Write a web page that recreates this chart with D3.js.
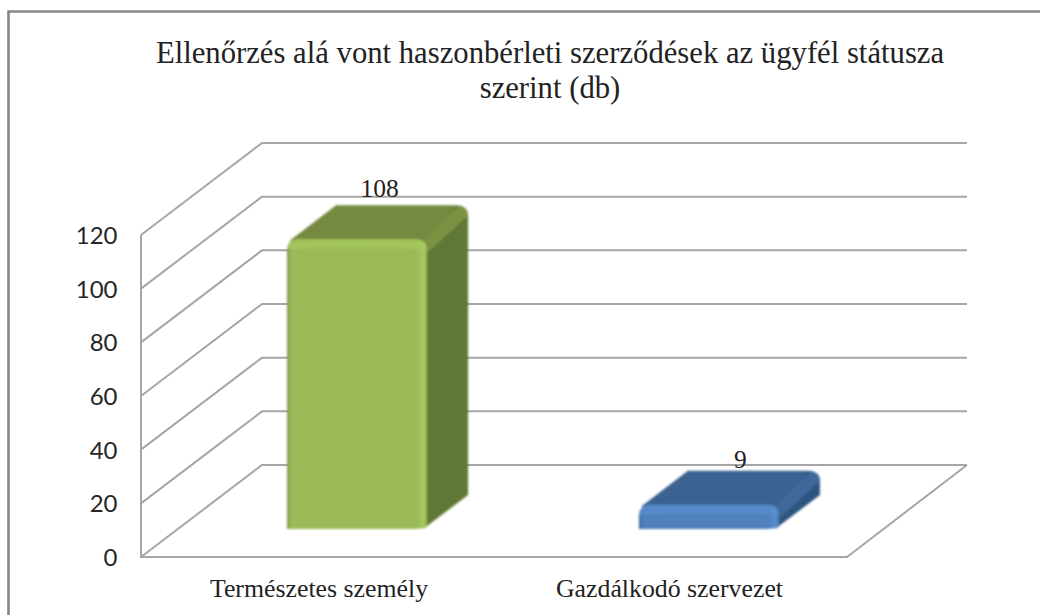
<!DOCTYPE html>
<html><head><meta charset="utf-8">
<script src="https://cdn.jsdelivr.net/npm/d3@7"></script>
<style>html,body{margin:0;background:#fff;overflow:hidden}svg{display:block}
text{font-family:"Liberation Serif",serif;fill:#222}</style></head>
<body><svg id="c" width="1040" height="615"></svg>
<script>
const titleLines = ["Ellenőrzés alá vont haszonbérleti szerződések az ügyfél státusza", "szerint (db)"];
const categories = ["Természetes személy", "Gazdálkodó szervezet"];
const values = [108, 9];
const tickValues = [0, 20, 40, 60, 80, 100, 120];
const frontColors = ["#9bbb59", "#4f81bd"];
const topColors = ["#74893f", "#3b6290"];
const sideColors = ["#617836", "#2f5480"];
const lightColors = ["#a8cc5e", "#5a90d0"];

const svg = d3.select("#c");
const defs = svg.append("defs");
defs.append("filter").attr("id", "soft").append("feGaussianBlur").attr("stdDeviation", 0.8);
const x0 = 141, x1 = 847, dx = 121, dy = -92;
const y = d3.scaleLinear().domain([0, 120]).range([557, 235]);
const band = d3.scaleBand().domain(categories).range([141, 925]).paddingInner(0.602).paddingOuter(0.415);
const barDx = 41, barDy = -34, floorY = 529;
const stroke = "#a6a6a6";

svg.append("path").attr("d", "M8.5,615V11.5H1040").attr("fill", "none").attr("stroke", "#868686").attr("stroke-width", 2.6);

const grid = svg.append("g").attr("fill", "none").attr("stroke", stroke).attr("stroke-width", 2);
tickValues.forEach(t => {
  grid.append("path").attr("d", d3.line()([[x0, y(t)], [x0 + dx, y(t) + dy], [x1 + dx - 1, y(t) + dy]]));
});
grid.append("path").attr("d", d3.line()([[x0, y(120)], [x0, y(0)], [x1, y(0)], [x1 + dx - 1, y(0) + dy]]));

const ax = d3.axisLeft(y).tickValues(tickValues).tickSize(0).tickPadding(0);
const axG = svg.append("g").attr("transform", "translate(117.5,0)").call(ax);
axG.select(".domain").remove();
axG.selectAll("text").style("font-size", "24px").style("font-family", 'Lato,sans-serif').style("fill", "#262626").attr("dy", ".35em");

const scaleX = d3.scalePoint().domain(categories).range([319, 669.5]);
svg.append("g").selectAll("text").data(categories).join("text")
  .attr("x", d => scaleX(d)).attr("y", 597).attr("text-anchor", "middle").attr("font-size", 25.8).text(d => d);

const t = svg.append("g").attr("text-anchor", "middle").attr("font-size", 30.7);
titleLines.forEach((l, i) => t.append("text").attr("x", 550).attr("y", 63 + i * 35).text(l));

const labelShift = [[0, -8], [9, -3]];
categories.forEach((c, i) => {
  const v = values[i], x = band(c), w = band.bandwidth(), top = y(v) - (557 - floorY), bot = floorY;
  const gid = "g" + i;
  const g = defs.append("linearGradient").attr("id", gid);
  [[0, d3.color(frontColors[i]).darker(0.6)], [0.03, frontColors[i]], [0.93, frontColors[i]], [0.98, lightColors[i]], [1, d3.color(frontColors[i]).darker(0.3)]]
    .forEach(([o, col]) => g.append("stop").attr("offset", o).attr("stop-color", col));
  const bar = svg.append("g").attr("filter", "url(#soft)");
  const r = 12;
  bar.append("path").attr("fill", sideColors[i]).attr("d",
    `M${x + w - 4},${bot} L${x + w + barDx},${bot + barDy} V${top + barDy + r} Q${x + w + barDx},${top + barDy} ${x + w + barDx - r},${top + barDy} L${x + w - 8},${top} Z`);
  bar.append("path").attr("fill", topColors[i]).attr("d",
    `M${x + 2},${top + 2} L${x + barDx + 8},${top + barDy} H${x + w + barDx - r} L${x + w},${top + 8} Z`);
  bar.append("path").attr("fill", d3.color(topColors[i]).brighter(0.18)).attr("d",
    `M${x + w - 3},${top + 1} L${x + w + barDx - 10},${top + barDy + 1} Q${x + w + barDx},${top + barDy + 1} ${x + w + barDx},${top + barDy + 10} L${x + w},${top + 14} Z`);
  bar.append("path").attr("fill", `url(#${gid})`).attr("d",
    `M${x},${bot} V${top + r} Q${x},${top} ${x + r},${top} H${x + w - r} Q${x + w},${top} ${x + w},${top + r} V${bot - 2} Q${x + w - 6},${bot} ${x + w - 12},${bot} Z`);
  bar.append("path").attr("fill", lightColors[i]).attr("d",
    `M${x + 1},${top + 10} Q${x + 1},${top} ${x + 11},${top} H${x + w - 11} Q${x + w},${top} ${x + w},${top + 10} Q${x + w / 2},${top + 8} ${x + 1},${top + 10} Z`).attr("opacity", 0.6);
  svg.append("text").attr("x", x + w / 2 + barDx / 2 + 2 + labelShift[i][0]).attr("y", top + barDy + labelShift[i][1])
    .attr("text-anchor", "middle").attr("font-size", 25.5).text(v);
});
</script></body></html>
